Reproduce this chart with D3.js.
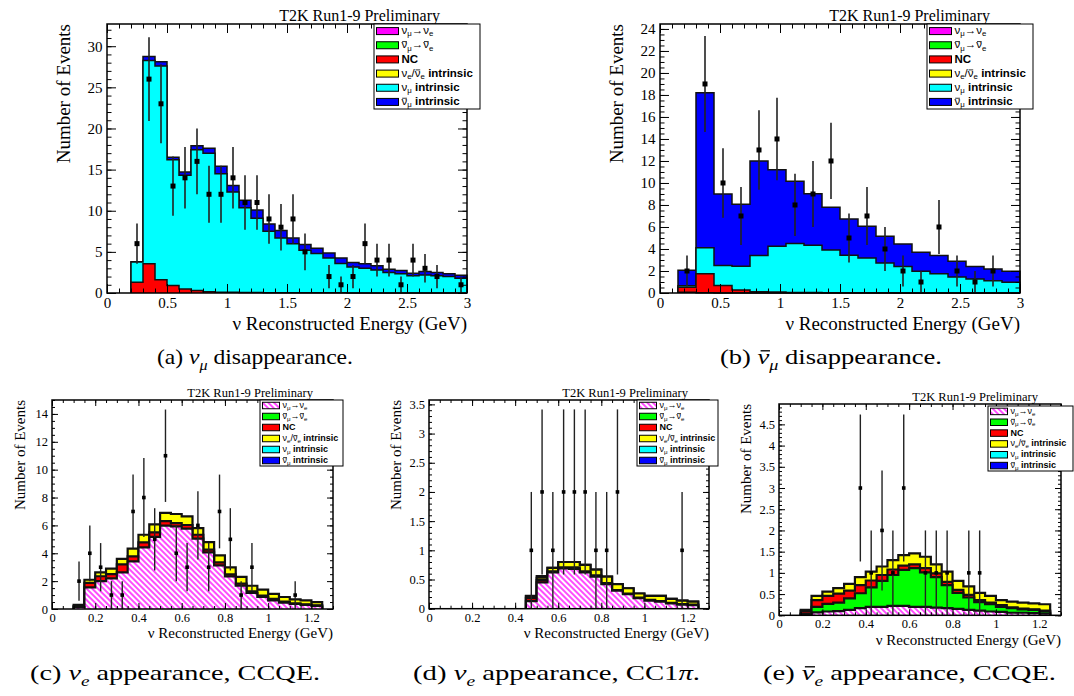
<!DOCTYPE html>
<html lang="en">
<head>
  <meta charset="utf-8">
  <title>T2K Run1-9 far detector spectra</title>
  <script src="https://cdn.jsdelivr.net/npm/d3@7"></script>
  <style>
    body { margin: 0; background: #fff; }
    svg { display: block; }
    text { white-space: pre; }
  </style>
</head>
<body>
<svg width="1074" height="696"></svg>

<script>
  // stacked samples, bottom to top  (^ = bar over next char, _ = subscript, *bold*)
  var sampleNames = ["ν_μ→ν_e", "^ν_μ→^ν_e", "*NC*", "ν_e/^ν_e *intrinsic*", "ν_μ *intrinsic*", "^ν_μ *intrinsic*"];
  var sampleColours = ["#ff00ff", "#00ff00", "#ff0000", "#ffff00", "#00ffff", "#0000ff"];

  // (a) numu disappearance
  var aEdges = [0.2,0.3,0.4,0.5,0.6,0.7,0.8,0.9,1.0,1.1,1.2,1.3,1.4,1.5,1.6,1.7,1.8,1.9,2.0,2.1,2.2,2.3,2.4,2.5,2.6,2.7,2.8,2.9,3.0];
  var aNC = [1.3,3.56,1.6,0.9,0.5,0.3,0.15,0.1,0.08,0.06,0.05,0.04,0.03,0.03,0.02,0.02,0.02,0.02,0.01,0.01,0.01,0.01,0.01,0.01,0.01,0.01,0.01,0.01];
  var aNumu = [2.46,24.7,26.0,15.3,13.8,17.1,16.85,14.4,12.2,10.3,9.05,7.46,6.67,5.97,5.18,4.78,4.23,3.58,3.14,2.99,2.79,2.49,2.34,2.09,2.19,2.09,1.99,1.79];
  var aNumubar = [0.04,0.5,0.5,0.3,0.4,0.5,0.6,0.9,0.8,0.9,1.0,0.9,0.9,0.7,0.7,0.65,0.6,0.65,0.55,0.55,0.5,0.4,0.4,0.3,0.4,0.4,0.35,0.35];
  var aData = [6,26,23,13,14,16,12,12,14,11,11,9,8,9,5,0,2,1,2,6,4,4,1,4,3,2,0,1];
  var aXTicks = [0,0.5,1,1.5,2,2.5,3];
  var aYTicks = [0,5,10,15,20,25,30];

  // (b) numubar disappearance
  var bEdges = [0.15,0.3,0.45,0.6,0.75,0.9,1.05,1.2,1.35,1.5,1.65,1.8,1.95,2.1,2.25,2.4,2.55,2.7,2.85,3.0];
  var bNC = [0.45,1.73,0.67,0.27,0.12,0.08,0.05,0.04,0.03,0.02,0.02,0.02,0.01,0.01,0.01,0.01,0.01,0.01,0.01];
  var bNumubarToNuebar = [0.07,0.03,0.01,0.01,0,0,0,0,0,0,0,0,0,0,0,0,0,0,0];
  var bNumu = [0.15,2.35,1.82,2.15,3.28,4.16,4.45,4.29,3.87,3.4,3.16,2.71,2.41,1.96,1.75,1.44,1.26,1.11,0.96];
  var bNumubar = [1.39,14.1,6.5,5.64,8.6,6.96,5.65,4.7,3.9,3.31,2.88,2.42,2.03,1.73,1.64,1.43,1.15,1.06,1.0];
  var bData = [2,19,10,7,13,14,8,9,12,5,7,4,2,1,6,2,1,2,0];
  var bXTicks = [0,0.5,1,1.5,2,2.5,3];
  var bYTicks = [0,2,4,6,8,10,12,14,16,18,20,22,24];

  // (c) nue appearance, CCQE
  var cEdges = [0.1,0.15,0.2,0.25,0.3,0.35,0.4,0.45,0.5,0.55,0.6,0.65,0.7,0.75,0.8,0.85,0.9,0.95,1.0,1.05,1.1,1.15,1.2,1.25];
  var cNumuToNue = [0.15,1.55,2.0,2.2,2.63,3.42,4.43,5.17,5.98,5.93,5.77,5.05,4.07,3.13,2.34,1.67,1.15,0.86,0.62,0.45,0.36,0.29,0.22];
  var cNC = [0.05,0.32,0.35,0.3,0.57,0.36,0.35,0.33,0.32,0.24,0.26,0.28,0.19,0.22,0.15,0.15,0.12,0.1,0.1,0.08,0.05,0.04,0.04];
  var cNue = [0.09,0.23,0.28,0.4,0.4,0.55,0.55,0.58,0.6,0.65,0.62,0.47,0.54,0.5,0.5,0.48,0.4,0.43,0.36,0.33,0.28,0.29,0.24];
  var cData = [2,4,3,1,1,7,8,5,11,4,3,6,3,7,5,1,3,0,0,0,1,0,0];
  var cXTicks = [0,0.2,0.4,0.6,0.8,1,1.2];
  var cYTicks = [0,2,4,6,8,10,12,14];

  // (d) nue appearance, CC1pi
  var dEdges = [0.45,0.5,0.55,0.6,0.65,0.7,0.75,0.8,0.85,0.9,0.95,1.0,1.05,1.1,1.15,1.2,1.25];
  var dNumuToNue = [0.13,0.45,0.62,0.69,0.68,0.62,0.55,0.42,0.31,0.25,0.18,0.14,0.12,0.09,0.07,0.06];
  var dNC = [0.05,0.04,0.02,0.02,0.03,0.02,0.02,0.02,0.01,0.01,0.01,0.01,0.01,0.01,0.01,0.01];
  var dNue = [0.03,0.04,0.06,0.09,0.09,0.11,0.1,0.11,0.1,0.09,0.07,0.07,0.09,0.07,0.06,0.05];
  var dNumu = [0.01,0.03,0,0,0,0,0,0,0,0,0,0,0,0,0,0];
  var dData = [1,2,1,2,2,2,1,1,2,0,0,0,0,0,1,0];
  var dXTicks = [0,0.2,0.4,0.6,0.8,1,1.2];
  var dYTicks = [0,0.5,1,1.5,2,2.5,3,3.5];

  // (e) nuebar appearance, CCQE
  var eEdges = [0.1,0.15,0.2,0.25,0.3,0.35,0.4,0.45,0.5,0.55,0.6,0.65,0.7,0.75,0.8,0.85,0.9,0.95,1.0,1.05,1.1,1.15,1.2,1.25];
  var eNumuToNue = [0.02,0.07,0.09,0.1,0.13,0.17,0.2,0.2,0.22,0.22,0.2,0.2,0.18,0.17,0.15,0.13,0.11,0.09,0.08,0.06,0.06,0.05,0.04];
  var eNumubarToNuebar = [0.02,0.13,0.18,0.2,0.27,0.35,0.46,0.61,0.73,0.85,0.91,0.81,0.72,0.54,0.38,0.29,0.2,0.17,0.12,0.11,0.08,0.08,0.05];
  var eNC = [0.06,0.16,0.19,0.21,0.18,0.19,0.16,0.14,0.13,0.1,0.09,0.1,0.09,0.08,0.07,0.06,0.05,0.04,0.04,0.02,0.02,0.01,0.02];
  var eNue = [0.03,0.1,0.1,0.13,0.16,0.19,0.21,0.2,0.22,0.25,0.26,0.27,0.21,0.24,0.21,0.2,0.17,0.16,0.12,0.13,0.14,0.14,0.15];
  var eData = [0,0,0,0,0,3,1,2,1,3,0,1,1,1,0,1,1,0,0,0,0,0,0];
  var eXTicks = [0,0.2,0.4,0.6,0.8,1,1.2];
  var eYTicks = [0,0.5,1,1.5,2,2.5,3,3.5,4,4.5];

  var captions = [
    {text: "(a) ~ν_μ~ disappearance.", x: 157, y: 364, len: 196},
    {text: "(b) ~^ν_μ~ disappearance.", x: 720, y: 364, len: 222},
    {text: "(c) ~ν_e~ appearance, CCQE.", x: 30, y: 680, len: 290},
    {text: "(d) ~ν_e~ appearance, CC1~π~.", x: 413, y: 680, len: 287},
    {text: "(e) ~^ν_e~ appearance, CCQE.", x: 763, y: 680, len: 293}
  ];

  var serif = "'Liberation Serif','Times New Roman',serif",
      sans = "'Liberation Sans',Arial,sans-serif";

  var big = {tickFs: 15, titleFs: 19, headFs: 16, legFs: 11.5, marker: 5, major: 9, minor: 4.5, line: 1.5, err: 1.6, pad: 4.5};
  var small = {tickFs: 12.5, titleFs: 15, headFs: 12.5, legFs: 9, marker: 3.6, major: 6, minor: 3, line: 2.2, err: 1.4, pad: 4};

  var panels = [
    {left: 107, right: 467, top: 24, bottom: 293, xMax: 3, yMax: 32.7, xMinor: 0.1, yMinor: 1,
     edges: aEdges, samples: [null, null, aNC, null, aNumu, aNumubar], data: aData, xTicks: aXTicks, yTicks: aYTicks,
     hatch: false, s: big, head: {x: 440, y: 21}, yTitleX: 70, xTitleY: 330,
     legend: {x: 374, y: 24, w: 106, h: 85, sw: 22, sh: 7}},
    {left: 660, right: 1020, top: 24, bottom: 293, xMax: 3, yMax: 24.45, xMinor: 0.1, yMinor: 0.5,
     edges: bEdges, samples: [null, bNumubarToNuebar, bNC, null, bNumu, bNumubar], data: bData, xTicks: bXTicks, yTicks: bYTicks,
     hatch: false, s: big, head: {x: 990, y: 21}, yTitleX: 623, xTitleY: 330,
     legend: {x: 927, y: 24, w: 106, h: 85, sw: 22, sh: 7}},
    {left: 52, right: 333, top: 400, bottom: 609, xMax: 1.3, yMax: 15, xMinor: 0.05, yMinor: 0.5,
     edges: cEdges, samples: [cNumuToNue, null, cNC, cNue, null, null], data: cData, xTicks: cXTicks, yTicks: cYTicks,
     hatch: true, s: small, head: {x: 313, y: 397}, yTitleX: 25, xTitleY: 638,
     legend: {x: 260, y: 400, w: 83, h: 66, sw: 17, sh: 6.5}},
    {left: 429, right: 709, top: 400, bottom: 608.7, xMax: 1.3, yMax: 3.575, xMinor: 0.05, yMinor: 0.1,
     edges: dEdges, samples: [dNumuToNue, null, dNC, dNue, dNumu, null], data: dData, xTicks: dXTicks, yTicks: dYTicks,
     hatch: true, s: small, head: {x: 688, y: 397}, yTitleX: 401, xTitleY: 638,
     legend: {x: 637, y: 400, w: 81, h: 66, sw: 17, sh: 6.5}},
    {left: 779, right: 1061, top: 404, bottom: 615.3, xMax: 1.3, yMax: 4.98, xMinor: 0.05, yMinor: 0.1,
     edges: eEdges, samples: [eNumuToNue, eNumubarToNuebar, eNC, eNue, null, null], data: eData, xTicks: eXTicks, yTicks: eYTicks,
     hatch: true, s: small, head: {x: 1038, y: 401}, yTitleX: 751, xTitleY: 645,
     legend: {x: 988, y: 406, w: 85, h: 65, sw: 17, sh: 6.5}}
  ];

  var svg = d3.select("svg");

  var hatch = svg.append("defs").append("pattern")
      .attr("id", "hatch")
      .attr("patternUnits", "userSpaceOnUse")
      .attr("width", 4).attr("height", 4)
      .attr("patternTransform", "rotate(-45)");
  hatch.append("rect").attr("width", 4).attr("height", 4).attr("fill", "#fff");
  hatch.append("line").attr("x1", 1).attr("y1", 0).attr("x2", 1).attr("y2", 4)
      .attr("stroke", "#ff00ff").attr("stroke-width", 1.4);

  // tiny markup: _x subscript, ^x bar, *bold*, ~italic~
  function parseMarkup(str) {
    var out = [], bold = false, ital = false, chars = Array.from(str), i = 0;
    while (i < chars.length) {
      var c = chars[i];
      if (c === "*") { bold = !bold; i++; continue; }
      if (c === "~") { ital = !ital; i++; continue; }
      var sub = false, bar = false;
      if (c === "_") { sub = true; i++; c = chars[i]; }
      if (c === "^") { bar = true; i++; c = chars[i]; }
      i++;
      var last = out[out.length - 1];
      if (!sub && !bar && last && !last.sub && !last.bar && last.bold === bold && last.ital === ital) last.t += c;
      else out.push({t: c, bold: bold, ital: ital, sub: sub, bar: bar});
    }
    return out;
  }

  function richText(g, x, y, markup, size, family, subShift) {
    var text = g.append("text").attr("x", x).attr("y", y)
        .attr("font-family", family).attr("font-size", size).attr("fill", "#000");
    var shift = 0, bars = [];
    parseMarkup(markup).forEach(function(s) {
      var want = s.sub ? size * subShift : 0;
      var ts = text.append("tspan")
          .attr("dy", want - shift)
          .attr("font-size", s.sub ? size * 0.68 : size)
          .attr("font-weight", s.bold ? "bold" : "normal")
          .attr("font-style", s.ital ? "italic" : "normal")
          .text(s.t);
      if (s.bar) bars.push({node: ts.node(), ital: s.ital});
      shift = want;
    });
    text.barSize = size;
    text.bars = bars;
    return text;
  }

  // overbars are drawn after any textLength stretching is applied
  function drawBars(g, text) {
    var size = text.barSize, base = +text.attr("y");
    text.bars.forEach(function(b) {
      var bb = b.node.getBBox();
      var off = b.ital ? size * 0.07 : 0;
      g.append("line")
          .attr("x1", bb.x + bb.width * 0.12 + off).attr("x2", bb.x + bb.width * 0.9 + off)
          .attr("y1", base - size * 0.6).attr("y2", base - size * 0.6)
          .attr("stroke", "#000").attr("stroke-width", Math.max(0.8, size * 0.06));
    });
  }

  function drawPanel(p) {
    var s = p.s;
    var g = svg.append("g");
    var x = d3.scaleLinear().domain([0, p.xMax]).range([p.left, p.right]);
    var y = d3.scaleLinear().domain([0, p.yMax]).range([p.bottom, p.top]);
    var nBins = p.edges.length - 1;

    // cumulative stack
    var run = d3.range(nBins).map(function() { return 0; });
    var cum = p.samples.map(function(sample) {
      if (sample) run = run.map(function(v, i) { return v + sample[i]; });
      return run.slice();
    });

    var line = d3.line().x(function(d) { return x(d[0]); }).y(function(d) { return y(d[1]); });
    function stepPoints(vals) {
      var pts = [[p.edges[0], 0]];
      vals.forEach(function(v, i) { pts.push([p.edges[i], v], [p.edges[i + 1], v]); });
      pts.push([p.edges[nBins], 0]);
      return pts;
    }

    // ROOT style: draw the cumulative histograms from the top one down
    for (var k = p.samples.length - 1; k >= 0; k--) {
      if (!p.samples[k]) continue;
      var pts = stepPoints(cum[k]);
      var hatched = p.hatch && k === 0;
      g.append("path").attr("d", line(pts) + "Z")
          .attr("fill", hatched ? "url(#hatch)" : sampleColours[k])
          .attr("stroke", "none");
      g.append("path").attr("d", line(pts))
          .attr("fill", "none").attr("stroke", "#111")
          .attr("stroke-width", s.line).attr("stroke-linejoin", "miter");
    }

    // data points with sqrt(N) errors
    var pts = p.data.map(function(v, i) { return {x: (p.edges[i] + p.edges[i + 1]) / 2, v: v}; })
        .filter(function(d) { return d.v > 0; });
    g.selectAll(".err").data(pts).enter().append("line")
        .attr("x1", function(d) { return x(d.x); }).attr("x2", function(d) { return x(d.x); })
        .attr("y1", function(d) { return y(d.v - Math.sqrt(d.v)); })
        .attr("y2", function(d) { return y(d.v + Math.sqrt(d.v)); })
        .attr("stroke", "#222").attr("stroke-width", s.err);
    g.selectAll(".pt").data(pts).enter().append("rect")
        .attr("x", function(d) { return x(d.x) - s.marker / 2; })
        .attr("y", function(d) { return y(d.v) - s.marker / 2; })
        .attr("width", s.marker).attr("height", s.marker)
        .attr("fill", "#000");

    // axes with inward ticks on all four sides
    var fmt = d3.format("~g");
    var xMinors = d3.range(0, p.xMax + 1e-9, p.xMinor);
    var yMinors = d3.range(0, p.yMax + 1e-9, p.yMinor);
    function axis(fn, scale, vals, len, labels, tr) {
      var a = fn(scale).tickValues(vals).tickSize(-len).tickPadding(s.pad)
          .tickFormat(labels ? fmt : "");
      var ag = g.append("g").attr("transform", tr).call(a);
      ag.select(".domain").remove();
      ag.selectAll("line").attr("stroke", "#000").attr("stroke-width", 1);
      ag.attr("font-family", serif).attr("font-size", s.tickFs);
      ag.selectAll("text").attr("fill", "#000");
    }
    var bt = "translate(0," + p.bottom + ")", tp = "translate(0," + p.top + ")",
        lt = "translate(" + p.left + ",0)", rt = "translate(" + p.right + ",0)";
    axis(d3.axisBottom, x, xMinors, s.minor, false, bt);
    axis(d3.axisBottom, x, p.xTicks, s.major, true, bt);
    axis(d3.axisTop, x, xMinors, s.minor, false, tp);
    axis(d3.axisTop, x, p.xTicks, s.major, false, tp);
    axis(d3.axisLeft, y, yMinors, s.minor, false, lt);
    axis(d3.axisLeft, y, p.yTicks, s.major, true, lt);
    axis(d3.axisRight, y, yMinors, s.minor, false, rt);
    axis(d3.axisRight, y, p.yTicks, s.major, false, rt);

    g.append("rect").attr("x", p.left).attr("y", p.top)
        .attr("width", p.right - p.left).attr("height", p.bottom - p.top)
        .attr("fill", "none").attr("stroke", "#000").attr("stroke-width", 1.5);

    // titles
    g.append("text").attr("x", p.head.x).attr("y", p.head.y)
        .attr("text-anchor", "end").attr("font-family", serif).attr("font-size", s.headFs)
        .text("T2K Run1-9 Preliminary");
    g.append("text").attr("transform", "translate(" + p.yTitleX + "," + p.top + ") rotate(-90)")
        .attr("text-anchor", "end").attr("font-family", serif).attr("font-size", s.titleFs)
        .text("Number of Events");
    g.append("text").attr("x", p.right).attr("y", p.xTitleY)
        .attr("text-anchor", "end").attr("font-family", serif).attr("font-size", s.titleFs)
        .text("ν Reconstructed Energy (GeV)");

    // legend
    var L = p.legend, rowH = L.h / sampleNames.length;
    g.append("rect").attr("x", L.x).attr("y", L.y).attr("width", L.w).attr("height", L.h)
        .attr("fill", "#fff").attr("stroke", "#000").attr("stroke-width", 1);
    sampleNames.forEach(function(name, k) {
      var cy = L.y + rowH * (k + 0.5);
      g.append("rect").attr("x", L.x + 2.5).attr("y", cy - L.sh / 2)
          .attr("width", L.sw).attr("height", L.sh)
          .attr("fill", (p.hatch && k === 0) ? "url(#hatch)" : sampleColours[k])
          .attr("stroke", "#000").attr("stroke-width", 1);
      var t = richText(g, L.x + L.sw + 5.5, cy + s.legFs * 0.28, name, s.legFs, sans, 0.18);
      drawBars(g, t);
    });
  }

  panels.forEach(drawPanel);

  captions.forEach(function(c) {
    var t = richText(svg, c.x, c.y, c.text, 22, serif, 0.28)
        .attr("textLength", c.len).attr("lengthAdjust", "spacingAndGlyphs");
    drawBars(svg, t);
  });
</script>
</body>
</html>
